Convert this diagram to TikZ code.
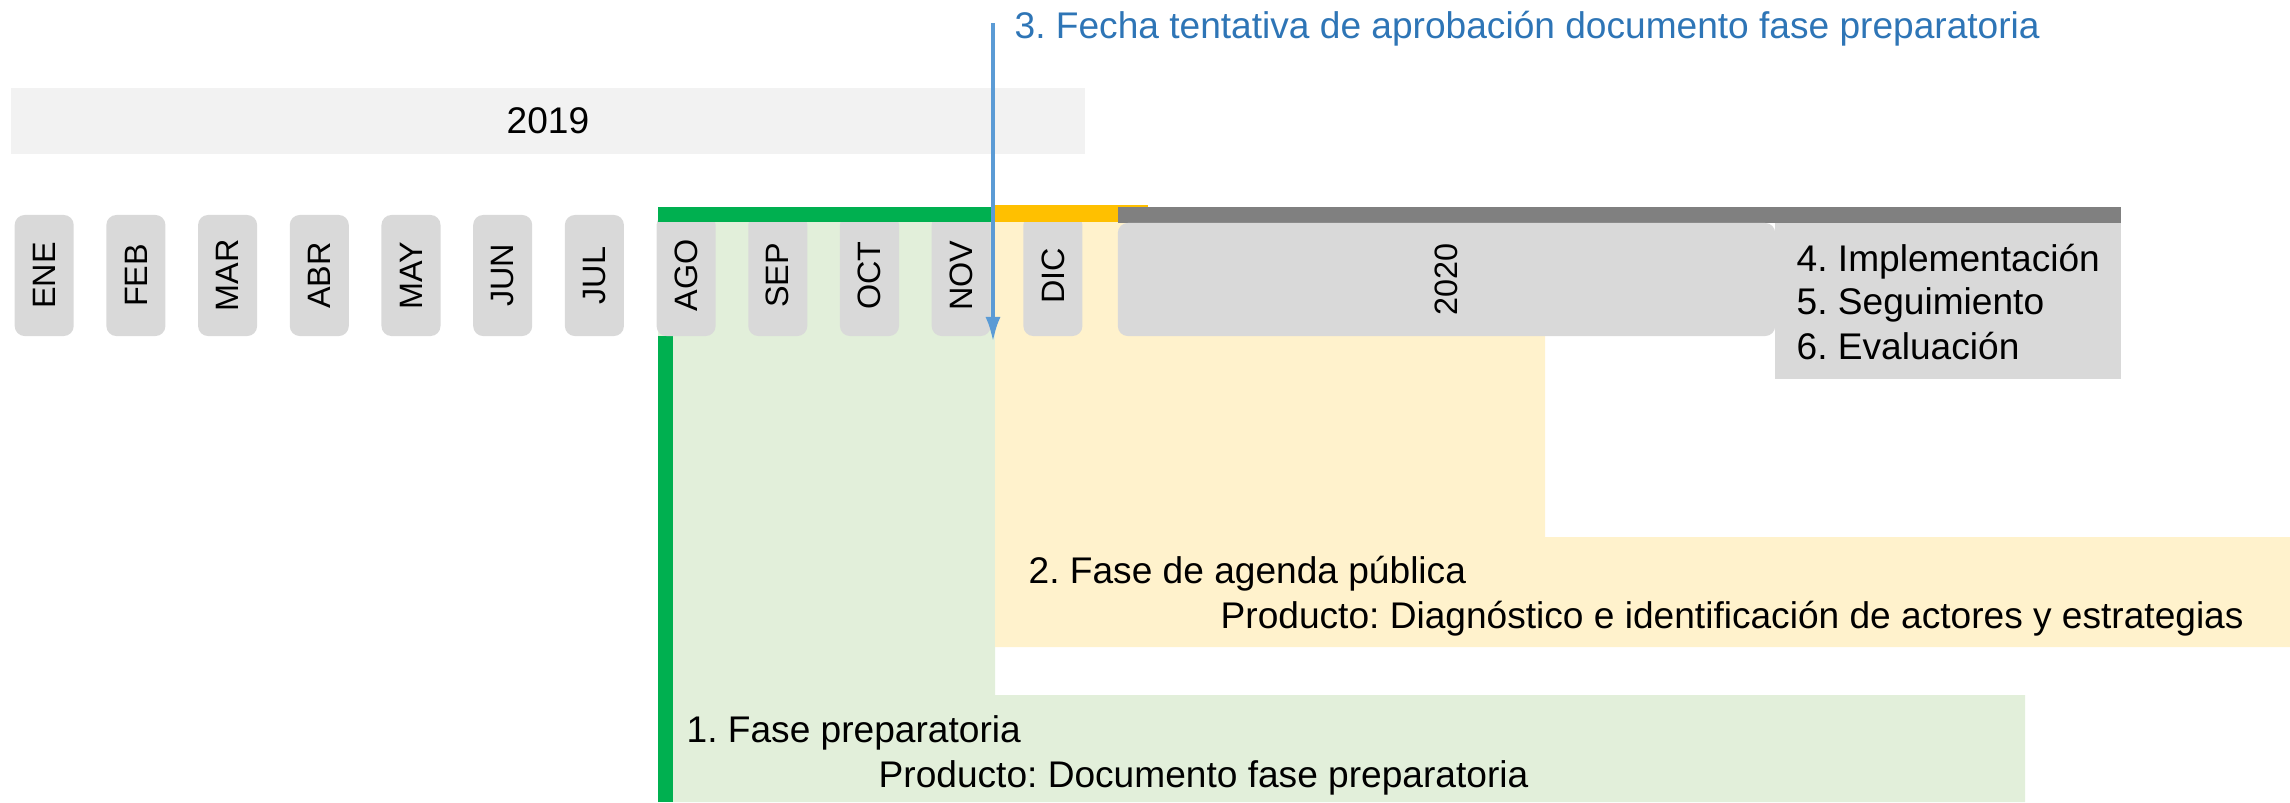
\documentclass[tikz,border=0pt]{standalone}
\usepackage{fontspec}
\setmainfont{Liberation Sans}
\usetikzlibrary{arrows.meta}

\definecolor{verde}{HTML}{00B050}
\definecolor{verdeclaro}{HTML}{E2EFDA}
\definecolor{amarillo}{HTML}{FFC000}
\definecolor{amarilloclaro}{HTML}{FFF2CC}
\definecolor{gris}{HTML}{808080}
\definecolor{grisclaro}{HTML}{D9D9D9}
\definecolor{grisfondo}{HTML}{F2F2F2}
\definecolor{azul}{HTML}{5B9BD5}
\definecolor{azultexto}{HTML}{2E75B6}

\tikzset{
	mes/.style={fill=grisclaro, rounded corners=0.1cm, rotate=90, inner sep=0pt,
		minimum width=1.21cm, minimum height=0.59cm, font=\fontsize{9.2}{11}\selectfont},
	texto/.style={anchor=base west, inner sep=0pt, font=\fontsize{10.55}{12}\selectfont},
}

\begin{document}
\frenchspacing
\begin{tikzpicture}[x=0.01cm, y=-0.01cm]
		\useasboundingbox (0,0) rectangle (2290,802);
		
		% fases (fondos)
		\fill[verdeclaro] (658,222) -- (995,222) -- (995,695) -- (2025,695) -- (2025,802) -- (658,802) -- cycle;
		\fill[amarilloclaro] (995,222) -- (1545,222) -- (1545,537) -- (2290,537) -- (2290,647) -- (995,647) -- cycle;
		\fill[verde] (658,336) rectangle (673,802);
		
		% anio 2019
		\node[fill=grisfondo, minimum width=10.73cm, minimum height=0.66cm, inner sep=0pt,
			font=\fontsize{10.55}{12}\selectfont] (anio19) at (548,121) {2019};
		
		% meses
		\foreach \m [count=\i from 0] in {ENE,FEB,MAR,ABR,MAY,JUN,JUL,AGO,SEP,OCT,NOV,DIC}
			\node[mes] (\m) at ({44.2+91.7*\i},275.5) {\m};
		
		% barras superiores
		\fill[verde] (658,207) rectangle (993,222);
		\fill[amarillo] (993,205) rectangle (1148,222);
		\fill[gris] (1118,207) rectangle (2121,223);
		
		% anio 2020 y etapas siguientes
		\fill[grisclaro] (1775,223) rectangle (2121,379);
		\node[mes, minimum height=6.57cm, minimum width=1.13cm] (anio20) at (1446.5,279.5) {2020};
		\node[texto] (etapa4) at (1796,271) {4. Implementación};
		\node[texto] (etapa5) at (1796,314) {5. Seguimiento};
		\node[texto] (etapa6) at (1796,359) {6. Evaluación};
		
		% textos de fases
		\node[texto] (fase2) at (1028,583) {2. Fase de agenda pública};
		\node[texto] (prod2) at (1220,628) {Producto: Diagnóstico e identificación de actores y estrategias};
		\node[texto] (fase1) at (686,742) {1. Fase preparatoria};
		\node[texto] (prod1) at (878,787) {Producto: Documento fase preparatoria};
		
		% hito 3
		\node[texto, text=azultexto] (hito) at (1014,38) {3. Fecha tentativa de aprobación documento fase preparatoria};
		\coordinate (hitoini) at (993,23);
		\coordinate (hitofin) at (993,342);
		\draw[azul, line width=0.04cm, -{Latex[length=0.25cm,width=0.15cm]}] (hitoini) -- (hitofin);
	\end{tikzpicture}
\end{document}
